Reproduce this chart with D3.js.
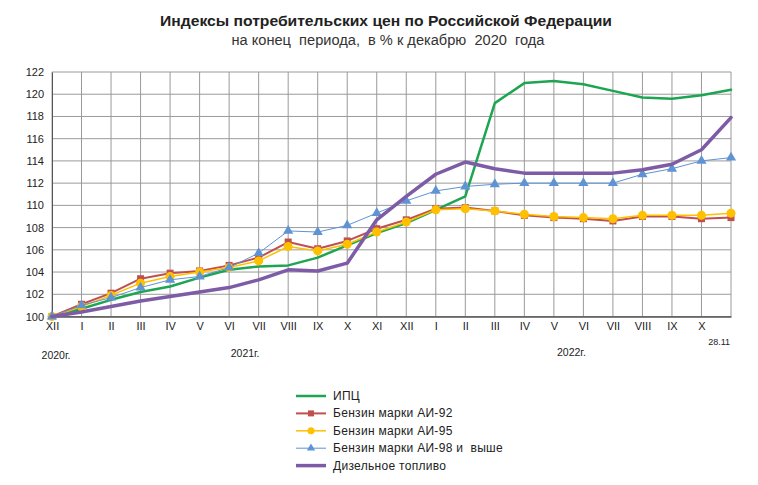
<!DOCTYPE html>
<html>
<head>
<meta charset="utf-8">
<script src="https://cdn.jsdelivr.net/npm/d3@7"></script>
<style>
  body { margin: 0; background: #fff; }
  svg { display: block; font-family: "Liberation Sans", Arial, sans-serif; }
  text { white-space: pre; }
</style>
</head>
<body>
<svg id="chart" width="758" height="485"></svg>
<script>
const categories = ["XII","I","II","III","IV","V","VI","VII","VIII","IX","X","XI","XII","I","II","III","IV","V","VI","VII","VIII","IX","X","28.11"];
const yearLabels = ["2020г.","2021г.","2022г."];
const yTicks = [100,102,104,106,108,110,112,114,116,118,120,122];

const cpi    = [100,100.7,101.5,102.2,102.7,103.5,104.2,104.5,104.6,105.3,106.4,107.5,108.4,109.6,110.8,119.2,121.0,121.2,120.9,120.3,119.7,119.6,119.9,120.4];
const ai92   = [100,101.1,102.1,103.4,103.9,104.1,104.6,105.3,106.7,106.1,106.8,107.9,108.7,109.7,109.8,109.5,109.1,108.9,108.8,108.6,109.0,109.0,108.8,108.9];
const ai95   = [100,100.9,101.9,103.0,103.6,104.0,104.4,105.0,106.3,105.9,106.5,107.6,108.5,109.6,109.7,109.5,109.2,109.0,108.9,108.8,109.1,109.1,109.1,109.3];
const ai98   = [100,101.0,101.7,102.6,103.3,103.6,104.4,105.7,107.7,107.6,108.2,109.3,110.4,111.3,111.7,111.9,112.0,112.0,112.0,112.0,112.8,113.3,114.0,114.3];
const diesel = [100,100.4,100.9,101.4,101.8,102.2,102.6,103.3,104.2,104.1,104.8,108.7,110.8,112.8,113.9,113.3,112.9,112.9,112.9,112.9,113.2,113.7,115.0,117.9];

const seriesNames = ["ИПЦ","Бензин марки АИ-92","Бензин марки АИ-95","Бензин марки АИ-98 и  выше","Дизельное топливо"];

const svg = d3.select("#chart");
const pL = 52, pR = 731, pT = 72, pB = 316.5;

const x = d3.scalePoint().domain(d3.range(categories.length)).range([pL, pR]);
const y = d3.scaleLinear().domain([100, 122]).range([pB, pT]);

// title
svg.append("text").attr("x", 386).attr("y", 26).attr("text-anchor", "middle")
  .attr("font-size", 15).attr("font-weight", "bold").attr("fill", "#222")
  .attr("textLength", 452).attr("lengthAdjust", "spacingAndGlyphs")
  .text("Индексы потребительских цен по Российской Федерации");
svg.append("text").attr("x", 388).attr("y", 45).attr("text-anchor", "middle")
  .attr("font-size", 14).attr("fill", "#333")
  .attr("textLength", 313).attr("lengthAdjust", "spacingAndGlyphs")
  .text("на конец  периода,  в % к декабрю  2020  года");

// grid
const g = svg.append("g");
g.selectAll("line.h").data(yTicks).join("line")
  .attr("x1", pL).attr("x2", pR).attr("y1", d => y(d)).attr("y2", d => y(d))
  .attr("stroke", "#9a9a9a").attr("stroke-width", 1);
g.selectAll("line.v").data(d3.range(categories.length)).join("line")
  .attr("x1", d => x(d)).attr("x2", d => x(d)).attr("y1", pT).attr("y2", pB)
  .attr("stroke", "#9a9a9a").attr("stroke-width", 1);

// axes
const yAxis = svg.append("g").attr("transform", `translate(${pL},0)`)
  .call(d3.axisLeft(y).tickValues(yTicks).tickSize(0).tickPadding(8));
yAxis.select(".domain").attr("stroke", "#555");
yAxis.selectAll("text").attr("font-size", 11).attr("fill", "#222").attr("font-family", "Liberation Sans, Arial, sans-serif");

const xAxis = svg.append("g").attr("transform", `translate(0,${pB})`)
  .call(d3.axisBottom(x).tickValues(d3.range(categories.length - 1)).tickFormat(i => categories[i]).tickSize(0).tickPadding(6));
xAxis.select(".domain").attr("stroke", "#555").attr("stroke-width", 1.5);
xAxis.selectAll("text").attr("font-size", 11).attr("fill", "#222").attr("font-family", "Liberation Sans, Arial, sans-serif");

svg.append("text").attr("x", x(categories.length - 1) - 1).attr("y", 345)
  .attr("text-anchor", "end").attr("font-size", 9).attr("fill", "#222")
  .text(categories[categories.length - 1]);

const yearPos = [[x(0) + 4, 359], [x(6) + 16, 357], [x(18) - 12, 356]];
yearLabels.forEach((t, i) => {
  svg.append("text").attr("x", yearPos[i][0]).attr("y", yearPos[i][1]).attr("text-anchor", "middle")
    .attr("font-size", 10.5).attr("fill", "#222").text(t);
});

const line = d3.line().x((d, i) => x(i)).y(d => y(d));
const colors = { cpi: "#1ea552", ai92: "#c0504d", ai95: "#ffc000", ai98: "#5f93d3", diesel: "#7d5ba6" };

function drawLine(data, color, width) {
  svg.append("path").datum(data).attr("d", line).attr("fill", "none")
    .attr("stroke", color).attr("stroke-width", width)
    .attr("stroke-linejoin", "round").attr("stroke-linecap", "round");
}

drawLine(cpi, colors.cpi, 2.5);
drawLine(ai92, colors.ai92, 2);
svg.append("g").selectAll("rect").data(ai92).join("rect")
  .attr("x", (d, i) => x(i) - 3.5).attr("y", d => y(d) - 3.5).attr("width", 7).attr("height", 7)
  .attr("fill", colors.ai92);
drawLine(ai95, colors.ai95, 1.5);
svg.append("g").selectAll("circle").data(ai95).join("circle")
  .attr("cx", (d, i) => x(i)).attr("cy", d => y(d)).attr("r", 4.5).attr("fill", colors.ai95);
drawLine(ai98, colors.ai98, 1);
const tri = d3.symbol().type(d3.symbolTriangle).size(45);
svg.append("g").selectAll("path").data(ai98).join("path")
  .attr("d", tri).attr("transform", (d, i) => `translate(${x(i)},${y(d)})`).attr("fill", colors.ai98);
drawLine(diesel, colors.diesel, 3.5);

// legend
const legend = svg.append("g");
const ly0 = 396, ldy = 17.4;
const legendItems = [
  { name: seriesNames[0], color: colors.cpi, w: 2.5, marker: null },
  { name: seriesNames[1], color: colors.ai92, w: 2, marker: "square" },
  { name: seriesNames[2], color: colors.ai95, w: 1.5, marker: "circle" },
  { name: seriesNames[3], color: colors.ai98, w: 1, marker: "triangle" },
  { name: seriesNames[4], color: colors.diesel, w: 3.5, marker: null }
];
legendItems.forEach((it, i) => {
  const yy = ly0 + i * ldy;
  legend.append("line").attr("x1", 296).attr("x2", 326).attr("y1", yy).attr("y2", yy)
    .attr("stroke", it.color).attr("stroke-width", it.w);
  if (it.marker === "square") legend.append("rect").attr("x", 308).attr("y", yy - 3).attr("width", 6).attr("height", 6).attr("fill", it.color);
  if (it.marker === "circle") legend.append("circle").attr("cx", 311).attr("cy", yy).attr("r", 3.5).attr("fill", it.color);
  if (it.marker === "triangle") legend.append("path").attr("d", d3.symbol().type(d3.symbolTriangle).size(30)).attr("transform", `translate(311,${yy})`).attr("fill", it.color);
  legend.append("text").attr("x", 333).attr("y", yy + 4).attr("font-size", 12).attr("fill", "#222")
    .attr("letter-spacing", 0.3).text(it.name);
});
</script>
</body>
</html>
